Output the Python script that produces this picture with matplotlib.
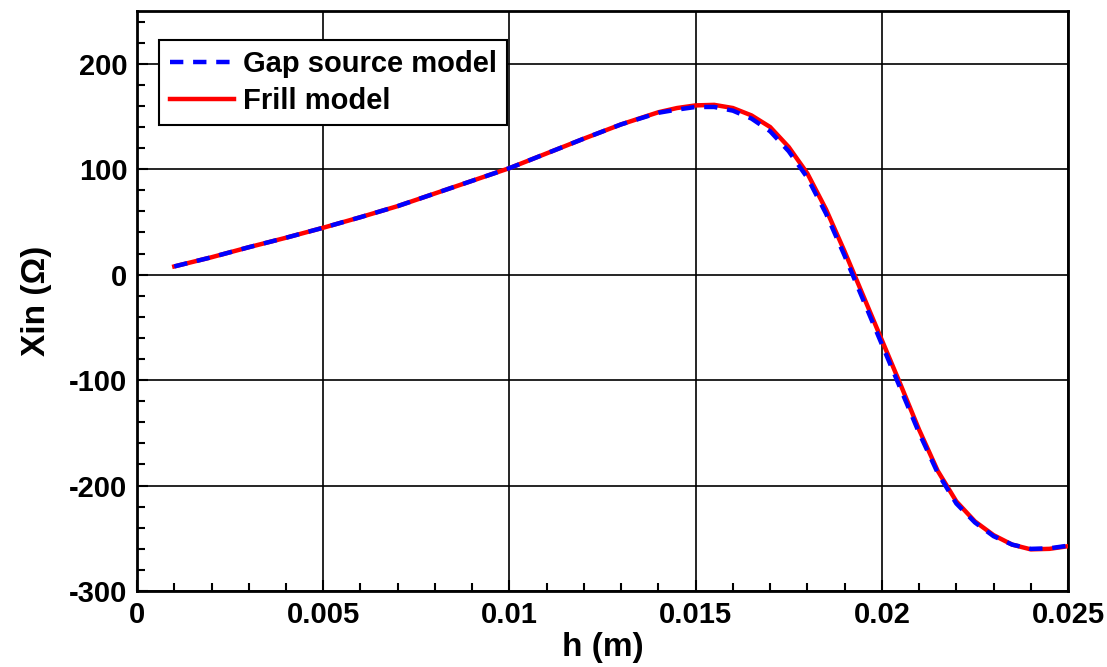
import matplotlib
matplotlib.use("Agg")
import matplotlib.pyplot as plt
from matplotlib.ticker import MultipleLocator, FuncFormatter

# data
h = [0.001, 0.002, 0.003, 0.004, 0.005, 0.006, 0.007, 0.008, 0.009, 0.010,
     0.011, 0.012, 0.013, 0.014, 0.0145, 0.015, 0.0155, 0.016, 0.0165, 0.017,
     0.0175, 0.018, 0.0185, 0.019, 0.0195, 0.020, 0.0205, 0.021, 0.0215, 0.022,
     0.0225, 0.023, 0.0235, 0.024, 0.0245, 0.025]

frill = [7.8, 16.5, 26, 35, 44.5, 54.5, 65, 77, 89, 101,
         115, 129, 142.5, 154, 158, 160.5, 161, 158, 151, 140,
         121, 96, 62, 22, -20, -62, -104, -147, -186, -215,
         -234, -247, -256, -260.5, -260, -257.5]

gap = [7.8, 16.5, 26, 35, 44.5, 54.5, 65, 77, 89, 101,
       115, 129, 142.5, 153.5, 156.5, 159, 159, 155.5, 148, 136,
       117, 92, 58, 18, -24, -66, -108, -150, -188, -217,
       -235, -248, -256, -260, -259.5, -257]

plt.rcParams["font.family"] = ["Liberation Sans", "DejaVu Sans"]
plt.rcParams["font.weight"] = "bold"
plt.rcParams["axes.unicode_minus"] = False

fig = plt.figure(figsize=(11.07, 6.67), dpi=100)
ax = fig.add_axes([0.1238, 0.1139, 0.841, 0.8696])

ax.plot(h, frill, color="red", lw=3.2, label="Frill model", zorder=3,
        solid_joinstyle="round")
ax.plot(h, gap, color="blue", lw=3.2, ls=(0, (3, 2.2)), label="Gap source model", zorder=4,
        dash_joinstyle="round")

ax.set_xlim(0, 0.025)
ax.set_ylim(-300, 250)
ax.xaxis.set_major_locator(MultipleLocator(0.005))
ax.xaxis.set_minor_locator(MultipleLocator(0.001))
ax.yaxis.set_major_locator(MultipleLocator(100))
ax.yaxis.set_minor_locator(MultipleLocator(20))
ax.xaxis.set_major_formatter(FuncFormatter(lambda v, p: "0" if abs(v) < 1e-12 else ("%g" % round(v, 4))))
ax.set_yticks([-300, -200, -100, 0, 100, 200])

ax.grid(True, which="major", color="black", lw=1.2)
ax.set_axisbelow(True)
ax.tick_params(which="both", direction="in", labelsize=21, width=1.5)
ax.tick_params(which="major", length=8, pad=7)
ax.tick_params(which="minor", length=6)
for s in ax.spines.values():
    s.set_linewidth(2)

ax.set_xlabel("h (m)", fontsize=24, fontweight="bold", labelpad=2)
ax.set_ylabel("Xin (\u03a9)", fontsize=24, fontweight="bold", labelpad=12)

handles, labels = ax.get_legend_handles_labels()
leg = ax.legend(handles[::-1], labels[::-1], loc="upper left", bbox_to_anchor=(0.024, 0.95),
                fontsize=21, frameon=True, fancybox=False, handlelength=2.2,
                handletextpad=0.3, borderpad=0.35, labelspacing=0.3, borderaxespad=0)
leg.get_frame().set_edgecolor("black")
leg.get_frame().set_linewidth(1.5)
leg.get_frame().set_alpha(1)

fig.savefig("out.png", dpi=100)
